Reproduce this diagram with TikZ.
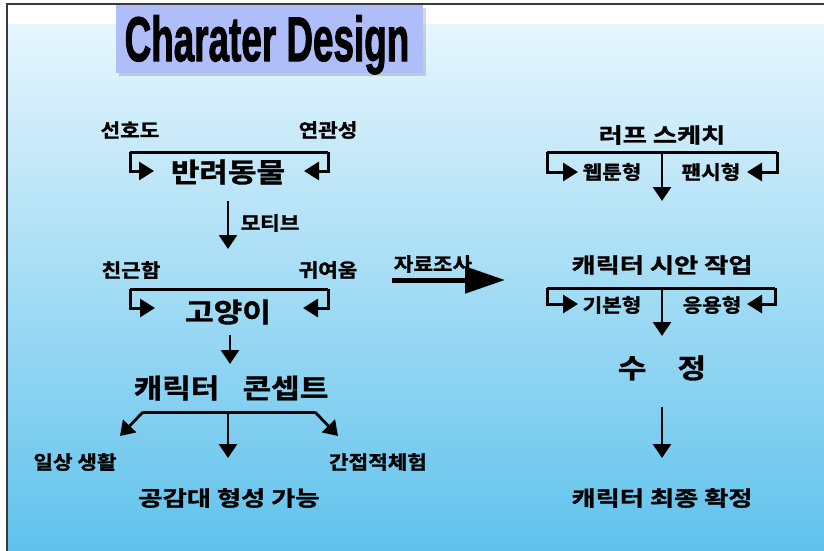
\documentclass[tikz,border=0pt]{standalone}
\usepackage{fontspec}
\usepackage{graphicx}
\usetikzlibrary{arrows.meta}
\setmainfont{Liberation Sans}
\newfontfamily\kr{Noto Sans CJK KR Bold}[FakeBold=1.3]
\newfontfamily\titlefont{Liberation Sans Bold}[FakeBold=2]
\newcommand\sxf{1}
\newcommand\sx[1]{\scalebox{\sxf}[1]{#1}}
\definecolor{bgtop}{HTML}{E6F6FD}
\definecolor{bgbot}{HTML}{60C2EC}
\definecolor{titlebg}{HTML}{AFBDF8}
\definecolor{framec}{HTML}{3A3A3A}
\begin{document}
\begin{tikzpicture}[x=1pt,y=-1pt,
  lbl/.style={font=\kr\fontsize{19}{21}\selectfont\renewcommand\sxf{1.12}, inner sep=0pt},
  midlbl/.style={font=\kr\fontsize{21}{23}\selectfont\renewcommand\sxf{1.25}, inner sep=0pt},
  biglbl/.style={font=\kr\fontsize{27}{29}\selectfont\renewcommand\sxf{1.15}, inner sep=0pt},
  bar/.style={line width=3pt, line join=miter},
  barr/.style={bar, -{Triangle[length=15pt,width=18pt]}},
  darr/.style={line width=2.8pt, -{Triangle[length=14pt,width=18pt]}},
]
\useasboundingbox (0,0) rectangle (824,551);
% background
\fill[white] (0,0) rectangle (824,551);
\shade[top color=bgtop, bottom color=bgbot] (7,25) rectangle (824,551);
\draw[framec, line width=2pt] (7,551) -- (7,4) -- (824,4);
% title
\fill[black, opacity=0.15] (119,8) rectangle (426,76);
\node[fill=titlebg, minimum width=307pt, minimum height=68pt, inner sep=0pt] (title) at (269.5,39) {};
\node[font=\titlefont\fontsize{63}{63}\selectfont, inner sep=0pt, anchor=base] (titletext) at (267,61) {\scalebox{0.585}[1]{Charater Design}};

% left column
\node[lbl] (pref) at (130,130) {\sx{선호도}};
\node[lbl] (rel) at (328,130) {\sx{연관성}};
\node[biglbl] (pet) at (228,172) {\sx{반려동물}};
\coordinate (b1L) at (130,152);
\coordinate (b1R) at (328,152);
\coordinate (b1Lt) at (154,171);
\coordinate (b1Rt) at (304,171);
\draw[bar] (b1L) -- (b1R);
\draw[barr] (b1L) |- (b1Lt);
\draw[barr] (b1R) |- (b1Rt);

\coordinate (a1s) at (228,201);
\coordinate (a1e) at (228,249);
\draw[darr] (a1s) -- (a1e);
\node[lbl] (motif) at (270,223) {\sx{모티브}};

\node[lbl] (fam) at (131,270) {\sx{친근함}};
\node[lbl] (cute) at (328,270) {\sx{귀여움}};
\node[biglbl] (cat) at (228,312) {\sx{고양이}};
\coordinate (b2L) at (130,289);
\coordinate (b2R) at (328,289);
\coordinate (b2Lt) at (155,308);
\coordinate (b2Rt) at (303,308);
\draw[bar] (b2L) -- (b2R);
\draw[barr] (b2L) |- (b2Lt);
\draw[barr] (b2R) |- (b2Rt);

\coordinate (a2s) at (230,335);
\coordinate (a2e) at (230,364);
\draw[darr] (a2s) -- (a2e);

\node[biglbl] (concept) at (231,388) {\sx{캐릭터\hspace{0.75em}콘셉트}};
\coordinate (sL) at (143,412);
\coordinate (sM) at (228,412);
\coordinate (sR) at (315,412);
\coordinate (tL) at (120,436);
\coordinate (tM) at (228,458);
\coordinate (tR) at (338,436);
\draw[bar] (sL) -- (sR);
\draw[darr] (sL) -- (tL);
\draw[darr] (sM) -- (tM);
\draw[darr] (sR) -- (tR);
\node[lbl] (daily) at (75,462) {\sx{일상 생활}};
\node[lbl] (indirect) at (378,462) {\sx{간접적체험}};
\node[midlbl] (empathy) at (229,498) {\sx{공감대 형성 가능}};

% research arrow
\node[lbl] (research) at (433,264) {\sx{자료조사}};
\coordinate (rs) at (392,280);
\coordinate (re) at (505,280);
\draw[line width=5pt, -{Triangle[length=40pt,width=26pt]}] (rs) -- (re);

% right column
\node[midlbl] (rough) at (662,135) {\sx{러프 스케치}};
\node[lbl] (webtoon) at (612,172) {\sx{웹툰형}};
\node[lbl] (fancy) at (711,172) {\sx{팬시형}};
\coordinate (c1L) at (547,152);
\coordinate (c1M) at (662,152);
\coordinate (c1R) at (777,152);
\coordinate (c1Lt) at (578,172);
\coordinate (c1Rt) at (747,172);
\coordinate (c1Mt) at (662,201);
\draw[bar] (c1L) -- (c1R);
\draw[barr] (c1L) |- (c1Lt);
\draw[barr] (c1R) |- (c1Rt);
\draw[darr] (c1M) -- (c1Mt);

\node[midlbl] (draft) at (662,265) {\sx{캐릭터 시안 작업}};
\node[lbl] (basic) at (612,305) {\sx{기본형}};
\node[lbl] (applied) at (712,305) {\sx{응용형}};
\coordinate (c2L) at (547,288);
\coordinate (c2M) at (662,288);
\coordinate (c2R) at (775,288);
\coordinate (c2Lt) at (578,304);
\coordinate (c2Rt) at (747,304);
\coordinate (c2Mt) at (662,336);
\draw[bar] (c2L) -- (c2R);
\draw[barr] (c2L) |- (c2Lt);
\draw[barr] (c2R) |- (c2Rt);
\draw[darr] (c2M) -- (c2Mt);

\node[biglbl] (fix) at (662,368) {\sx{수\hspace{1em}정}};
\coordinate (f1) at (662,407);
\coordinate (f2) at (662,458);
\draw[darr] (f1) -- (f2);
\node[midlbl] (final) at (662,498) {\sx{캐릭터 최종 확정}};
\end{tikzpicture}
\end{document}
